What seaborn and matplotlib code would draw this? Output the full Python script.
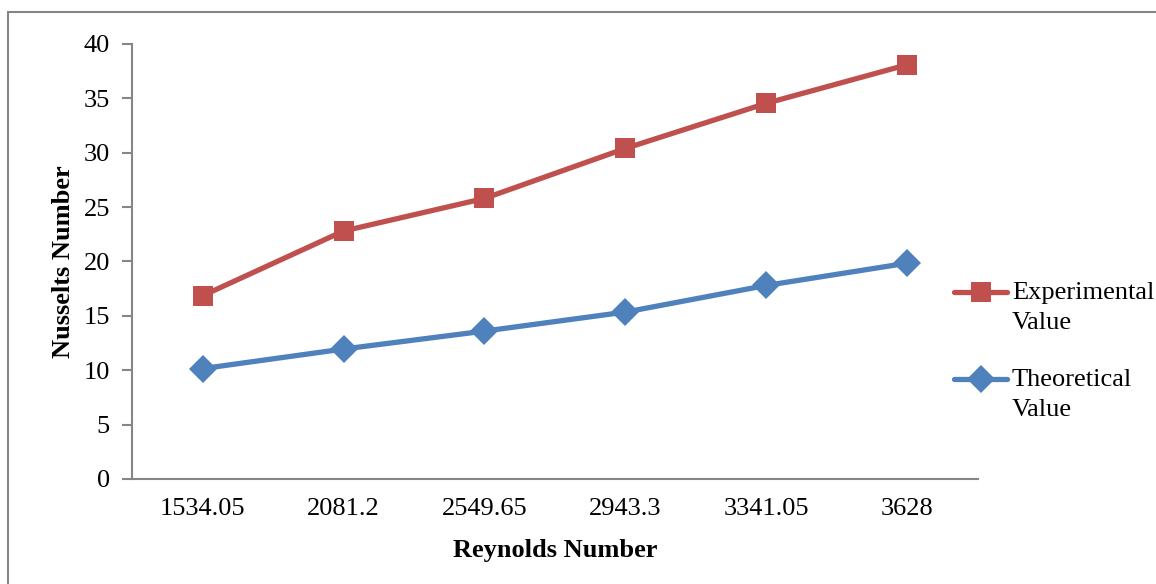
import matplotlib
matplotlib.use("Agg")
import matplotlib.pyplot as plt
import seaborn as sns
import pandas as pd
from matplotlib.lines import Line2D
from matplotlib.legend_handler import HandlerLine2D
from matplotlib.patches import Rectangle

# Reynolds numbers (categories) and Nusselt numbers for each series
reynolds = ["1534.05", "2081.2", "2549.65", "2943.3", "3341.05", "3628"]
experimental = [16.85, 22.8, 25.8, 30.4, 34.55, 38.1]
theoretical = [10.15, 11.95, 13.6, 15.35, 17.8, 19.85]
series_names = ["Experimental\nValue", "Theoretical\nValue"]

df = pd.DataFrame({
    "Reynolds": reynolds * 2,
    "Nusselt": experimental + theoretical,
    "Series": [series_names[0]] * len(reynolds) + [series_names[1]] * len(reynolds),
})

sns.set_style("white")
plt.rcParams["font.family"] = ["Liberation Serif", "DejaVu Serif"]
plt.rcParams["text.color"] = "black"
plt.rcParams["axes.labelcolor"] = "black"
plt.rcParams["xtick.color"] = "black"
plt.rcParams["ytick.color"] = "black"


class TopLineHandler(HandlerLine2D):
    """Legend key drawn level with the first line of a two-line label."""

    def __init__(self, raise_by, **kw):
        super().__init__(**kw)
        self.raise_by = raise_by

    def create_artists(self, legend, orig_handle, xdescent, ydescent,
                       width, height, fontsize, trans):
        return super().create_artists(legend, orig_handle, xdescent,
                                      ydescent - 2 * self.raise_by,
                                      width, height, fontsize, trans)


fig = plt.figure(figsize=(11.56, 5.84), dpi=100)
ax = fig.add_axes([0.1142, 0.1798, 0.7318, 0.7449])

sns.lineplot(
    data=df, x="Reynolds", y="Nusselt", hue="Series", style="Series",
    palette=["#C0504D", "#4F81BD"], markers=["s", "D"], dashes=False,
    linewidth=3.8, markersize=14.5, markeredgewidth=0, sort=False, ax=ax,
)

ax.set_ylim(0, 40)
ax.set_xlim(-0.5, len(reynolds) - 0.5)
ax.set_yticks(range(0, 41, 5))
ax.tick_params(axis="y", which="both", left=True, length=7, width=1.5,
               color="#868686", labelcolor="black", labelsize=19, pad=9)
ax.tick_params(axis="x", bottom=False, labelcolor="black", labelsize=19, pad=10)
for s in ["top", "right"]:
    ax.spines[s].set_visible(False)
for s in ["left", "bottom"]:
    ax.spines[s].set_color("#868686")
    ax.spines[s].set_linewidth(1.5)

ax.set_xlabel("Reynolds Number", fontsize=19, fontweight="bold", labelpad=14)
ax.set_ylabel("Nusselts Number", fontsize=19, fontweight="bold", labelpad=6)

leg = ax.legend(
    loc="center left", bbox_to_anchor=(0.8165, 0.398), bbox_transform=fig.transFigure,
    frameon=False, fontsize=19, handlelength=2.0, handletextpad=0.18,
    labelspacing=1.35, borderaxespad=0,
    handler_map={Line2D: TopLineHandler(raise_by=11)},
)
for t in leg.get_texts():
    t.set_color("black")
    t.set_linespacing(1.45)

# Outer chart border
fig.patches.append(Rectangle((8 / 1156, -0.1), 1.2, 1 - 12 / 584 + 0.1,
                             transform=fig.transFigure, fill=False,
                             edgecolor="#868686", linewidth=1.5))

fig.savefig("out.png", dpi=100)
